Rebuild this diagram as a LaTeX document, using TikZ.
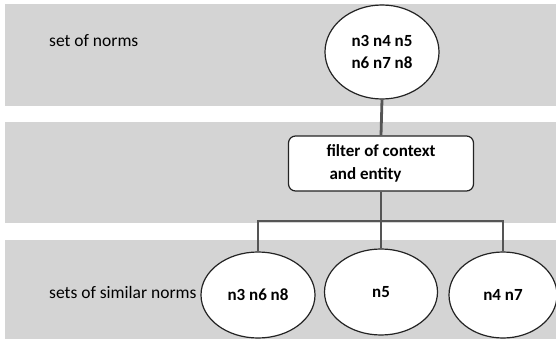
\documentclass[tikz,border=0pt]{standalone}
\usepackage{fontspec}
\setmainfont{Carlito}
\usetikzlibrary{shapes.geometric}
\definecolor{bandgray}{RGB}{212,212,212}
\definecolor{linkgray}{RGB}{85,85,85}
\definecolor{edgegray}{RGB}{35,35,35}
\begin{document}
\begin{tikzpicture}[x=1pt,y=-1pt,
  band/.style={fill=bandgray, draw=none},
  setnode/.style={ellipse, draw=edgegray, line width=1.2pt, fill=white,
    inner sep=0pt, align=center, text=black,
    font=\fontsize{17}{22}\selectfont\bfseries},
  filterbox/.style={rectangle, rounded corners=7pt, draw=edgegray,
    line width=1.2pt, fill=white, minimum width=185pt, minimum height=55pt,
    inner sep=0pt, align=left, text=black,
    font=\fontsize{17}{23}\selectfont\bfseries},
  rowlabel/.style={anchor=west, inner sep=0pt, text=black,
    font=\fontsize{17.5}{21}\selectfont},
  link/.style={draw=linkgray, line width=2.8pt, line join=miter}
]
\useasboundingbox (0,0) rectangle (556,339);

% background bands
\fill[band] (5,4) rectangle (556,106);
\fill[band] (5,122) rectangle (556,223);
\fill[band] (5,240) rectangle (556,339);

% row labels
\node[rowlabel] (lab1) at (49,41) {set of norms};
\node[rowlabel] (lab3) at (49,292) {sets of similar norms};

% nodes
\node[setnode, minimum width=114pt, minimum height=94pt] (top) at (382,52)
  {n3 n4 n5\\n6 n7 n8};
\node[filterbox] (filter) at (381,163.5) {filter of context\\\hspace*{3pt}and entity};
\node[setnode, minimum width=114pt, minimum height=86pt] (sim1) at (258,295) {n3 n6 n8};
\node[setnode, minimum width=113pt, minimum height=86pt] (sim2) at (381,292) {n5};
\node[setnode, minimum width=108pt, minimum height=86pt] (sim3) at (503,295) {n4 n7};

% connectors
\coordinate (split) at (381,221);
\draw[link] (top.south) -- (filter.north);
\draw[link] (filter.south) -- (split);
\draw[link] (sim1.north) |- (split) -| (sim3.north);
\draw[link] (split) -- (sim2.north);
\end{tikzpicture}
\end{document}
